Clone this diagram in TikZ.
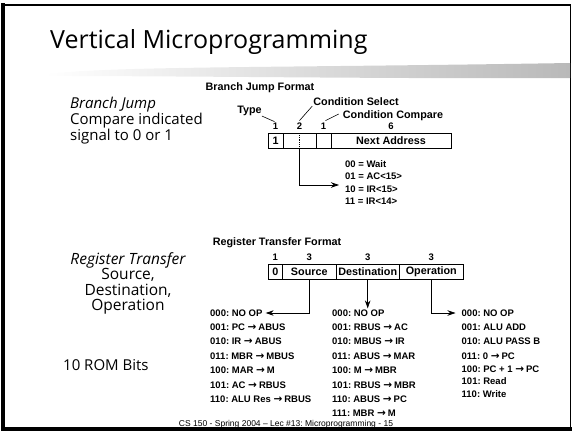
\documentclass[tikz,border=0pt]{standalone}
\usepackage{fontspec}
\setmainfont{Open Sans}
\newfontfamily\arial{Liberation Sans}
\newfontfamily\dejavu{DejaVu Sans}
\newcommand{\ar}{{\dejavu\bfseries\fontsize{10.5}{10.5}\selectfont →}\hspace{2pt}}
\frenchspacing
\usetikzlibrary{arrows.meta,positioning}

\begin{document}
\begin{tikzpicture}[x=1pt,y=-1pt,
	field/.style={draw,line width=0.8pt,minimum height=15pt,inner sep=0pt,font=\arial\bfseries\fontsize{10.8}{10.8}\selectfont},
	lbl/.style={inner sep=0pt,font=\arial\bfseries\fontsize{10.8}{10.8}\selectfont},
	num/.style={inner sep=0pt,font=\arial\bfseries\fontsize{9.5}{9.5}\selectfont},
	item/.style={inner sep=0pt,anchor=west,font=\arial\bfseries\fontsize{9.5}{9.5}\selectfont},
	hand/.style={inner sep=0pt,font=\fontsize{15}{13}\selectfont},
	lead/.style={line width=0.6pt},
	feed/.style={line width=0.8pt,-{Stealth[length=8pt,width=5.5pt]}}]

	\useasboundingbox (0,0) rectangle (572,431);

	% slide frame
	\draw[line width=1.5pt] (3,5) -- (570.5,5) -- (570.5,429);
	\draw[line width=4pt] (3,3) -- (3,429) -- (572,429);

	% brush under the title
	\shade[left color=white,right color=gray!55] (45,74) .. controls (120,66) and (260,68) .. (570,63) -- (570,78) .. controls (400,79) and (200,76) .. (45,76) -- cycle;
	\node[anchor=base west,inner sep=0pt,font=\fontsize{25}{25}\selectfont] (title) at (50,48) {Vertical Microprogramming};

	% left hand notes
	\node[hand,anchor=north west,align=left] (bjnote) at (70,97) {{\itshape Branch Jump}\\Compare indicated\\signal to 0 or 1};
	\node[hand,anchor=north,align=center,font=\fontsize{15.5}{15.6}\selectfont] (rtnote) at (128,252) {{\itshape Register Transfer}\\Source,\\Destination,\\Operation};
	\node[hand,anchor=west] (rom) at (63,365) {10 ROM Bits};

	% branch jump format
	\node[lbl] (bjf) at (260,88) {Branch Jump Format};
	\node[field,minimum width=15pt] (ty) at (275.5,141) {1};
	\node[field,minimum width=33pt] (sel) at (299.5,141) {};
	\node[field,minimum width=15pt] (cmp) at (323.5,141) {};
	\node[field,minimum width=120pt] (nxt) at (391,141) {Next Address};
	\draw[densely dotted,line width=0.8pt] (sel.north) -- (sel.south);
	\foreach \c/\n in {ty/1,sel/2,cmp/1,nxt/6}{
		\node[num] (w-\c) at ([yshift=7pt]\c.north) {\n};
	}
	\node[lbl] (type) at (249.5,111) {Type};
	\node[lbl] (csel) at (356,102) {Condition Select};
	\node[lbl] (ccmp) at (393,116) {Condition Compare};
	\draw[lead] (type.south east) -- ([xshift=-1pt,yshift=1pt]w-ty.north);
	\draw[lead] ([xshift=-1pt]csel.south west) -- ([yshift=2pt]w-sel.north);
	\draw[lead] ([xshift=-4pt,yshift=2pt]ccmp.west) -- ([xshift=2pt,yshift=2pt]w-cmp.north);

	\node[item] (c0) at (345,164) {00 = Wait};
	\node[item] (c1) at (345,176.5) {01 = AC<15>};
	\node[item] (c2) at (345,189) {10 = IR<15>};
	\node[item] (c3) at (345,201.5) {11 = IR<14>};
	\coordinate (tip) at (339,185);
	\draw[feed] (sel.south) |- (tip);

	% register transfer format
	\node[lbl] (rtf) at (277,243) {Register Transfer Format};
	\node[field,minimum width=14.5pt] (zero) at (275.3,272) {0};
	\node[field,minimum width=53.5pt] (src) at (309.3,272) {Source};
	\node[field,minimum width=63.5pt] (dst) at (367.7,272) {Destination};
	\node[field,minimum width=63.5pt] (opn) at (431.3,272) {Operation};
	\foreach \c/\n in {zero/1,src/3,dst/3,opn/3}{
		\node[num] (w-\c) at ([yshift=7pt]\c.north) {\n};
	}

	\foreach \t [count=\k from 0] in {000: NO OP,001: PC \ar ABUS,010: IR \ar ABUS,011: MBR \ar MBUS,100: MAR \ar M,101: AC \ar RBUS,110: ALU Res \ar RBUS}{
		\node[item] (s\k) at (210,{313+14.35*\k}) {\t};
	}
	\foreach \t [count=\k from 0] in {000: NO OP,001: RBUS \ar AC,010: MBUS \ar IR,011: ABUS \ar MAR,100: M \ar MBR,101: RBUS \ar MBR,110: ABUS \ar PC,111: MBR \ar M}{
		\node[item] (d\k) at (332,{313+14.35*\k}) {\t};
	}
	\foreach \t/\yy [count=\k from 0] in {000: NO OP/313,001: ALU ADD/327,010: ALU PASS B/341,011: 0 \ar PC/356,100: PC + 1 \ar PC/369,101: Read/381,110: Write/394}{
		\node[item] (o\k) at (461.5,\yy) {\t};
	}
	\draw[feed] (src.south) |- ([xshift=3pt]s0.east);
	\draw[feed] (dst.south) -- ([yshift=1pt]dst.south |- d0.north);
	\draw[feed] (opn.south) |- ([xshift=-6pt]o0.west);

	% footer
	\node[anchor=base,inner sep=0pt,font=\arial\fontsize{8.5}{8.5}\selectfont] (foot) at (286,426) {CS 150 - Spring 2004 – Lec \#13: Microprogramming - 15};
\end{tikzpicture}
\end{document}
